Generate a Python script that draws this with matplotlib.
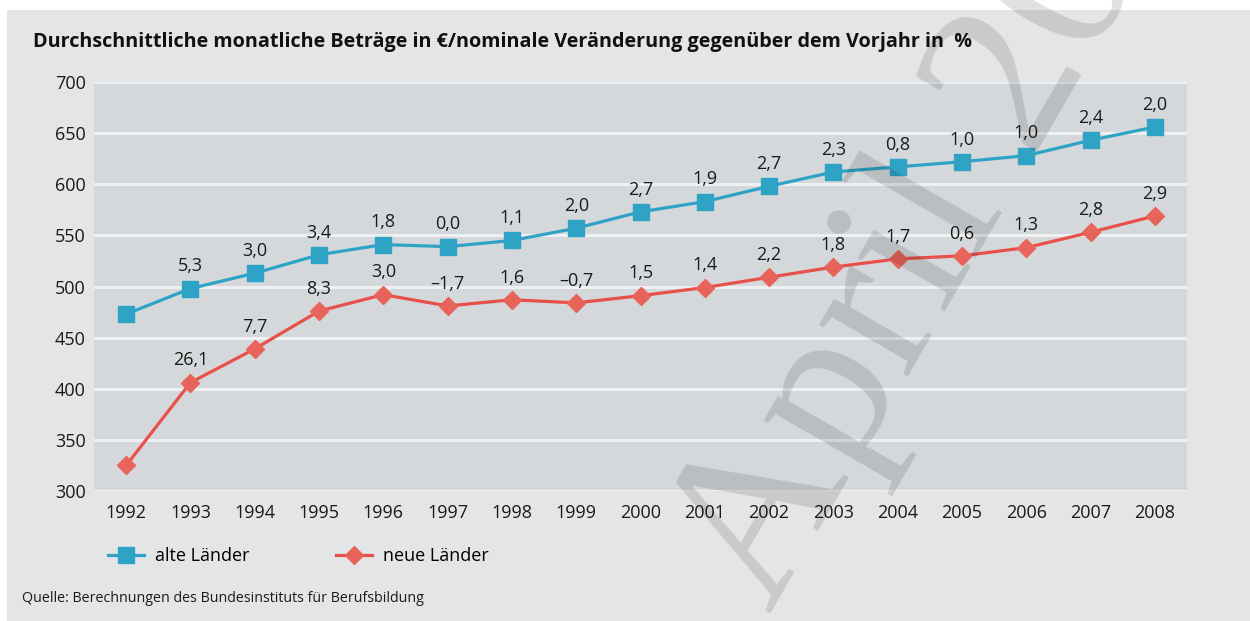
#!/usr/bin/env python3

import matplotlib
matplotlib.use("Agg")
import matplotlib.pyplot as plt
from matplotlib.patches import Rectangle
from matplotlib.lines import Line2D

# Durchschnittliche monatliche Ausbildungsvergütungen 1992-2008
years = list(range(1992, 2009))
alte_laender = [473, 498, 513, 531, 541, 539, 545, 557, 573, 583, 598, 612, 617, 622, 628, 643, 656]
neue_laender = [325, 406, 439, 476, 492, 481, 487, 484, 491, 499, 509, 519, 527, 530, 538, 553, 569]
alte_pct = ["", "5,3", "3,0", "3,4", "1,8", "0,0", "1,1", "2,0", "2,7", "1,9",
            "2,7", "2,3", "0,8", "1,0", "1,0", "2,4", "2,0"]
neue_pct = ["", "26,1", "7,7", "8,3", "3,0", "\u20131,7", "1,6", "\u20130,7", "1,5", "1,4",
            "2,2", "1,8", "1,7", "0,6", "1,3", "2,8", "2,9"]
y_ticks = [300, 350, 400, 450, 500, 550, 600, 650, 700]

BLUE = "#2fa3c5"
RED = "#e8504a"
RED_MK = "#e8635a"
FONT = ["Open Sans", "DejaVu Sans"]

plt.rcParams['font.family'] = FONT

W, H = 1250, 621
fig = plt.figure(figsize=(W / 100, H / 100), dpi=100)
fig.patch.set_facecolor("white")
fig.patches.append(Rectangle((7 / W, 0), 1 - 7 / W, (H - 10) / H,
                             transform=fig.transFigure, facecolor="#e4e5e7",
                             edgecolor="none", zorder=-10))

ax = fig.add_axes([94 / W, 1 - 491 / H, (1187 - 94) / W, (491 - 82) / H])
ax.set_facecolor("#d5d8db")
ax.set_xlim(1991.5, 2008.5)
ax.set_ylim(300, 700)
ax.set_yticks(y_ticks)
ax.set_xticks(years)
ax.set_xticklabels([str(y) for y in years])
ax.tick_params(length=0, labelsize=13, colors="#1a1a1a")
ax.tick_params(axis="y", pad=6)
ax.tick_params(axis="x", pad=9)
for s in ax.spines.values():
    s.set_visible(False)
ax.grid(axis="y", color="#eef0f1", linewidth=2.2)
ax.set_axisbelow(True)

ax.plot(years, alte_laender, color=BLUE, lw=2.3, marker="s", ms=11.5,
        mfc=BLUE, mec=BLUE, zorder=3)
ax.plot(years, neue_laender, color=RED, lw=2.3, marker="D", ms=9,
        mfc=RED_MK, mec=RED_MK, zorder=3)

for x, y, t in zip(years, alte_laender, alte_pct):
    if t:
        ax.annotate(t, (x, y), xytext=(0, 16), textcoords="offset points",
                    ha="center", va="center", fontsize=13, color="#1a1a1a")
for x, y, t in zip(years, neue_laender, neue_pct):
    if t:
        ax.annotate(t, (x, y), xytext=(0, 16), textcoords="offset points",
                    ha="center", va="center", fontsize=13, color="#1a1a1a")

fig.text(33 / W, 1 - 42 / H,
         "Durchschnittliche monatliche Beträge in \u20ac/nominale Veränderung gegenüber dem Vorjahr in  %",
         fontsize=14.2, fontweight="bold", ha="left", va="center", color="#111111")

handles = [
    Line2D([], [], color=BLUE, lw=2.3, marker="s", ms=11.5, mfc=BLUE, mec=BLUE),
    Line2D([], [], color=RED, lw=2.3, marker="D", ms=9, mfc=RED_MK, mec=RED_MK),
]
fig.legend(handles, ["alte Länder", "neue Länder"], loc="center left",
           bbox_to_anchor=(108 / W, 1 - 556 / H), ncol=2, frameon=False,
           fontsize=13, handlelength=2.0, handletextpad=0.6, columnspacing=4.8,
           borderpad=0, borderaxespad=0)

fig.text(22 / W, 1 - 598 / H,
         "Quelle: Berechnungen des Bundesinstituts für Berufsbildung",
         fontsize=10.3, ha="left", va="center", color="#1a1a1a")

# watermark
fig.text(770 / W, 1 - 615 / H, "April 2009", fontsize=160,
         family=["Liberation Serif", "DejaVu Serif"], color="black", alpha=0.12,
         rotation=60, rotation_mode="anchor", ha="left", va="baseline", zorder=10)

fig.savefig("out.png", dpi=100)
